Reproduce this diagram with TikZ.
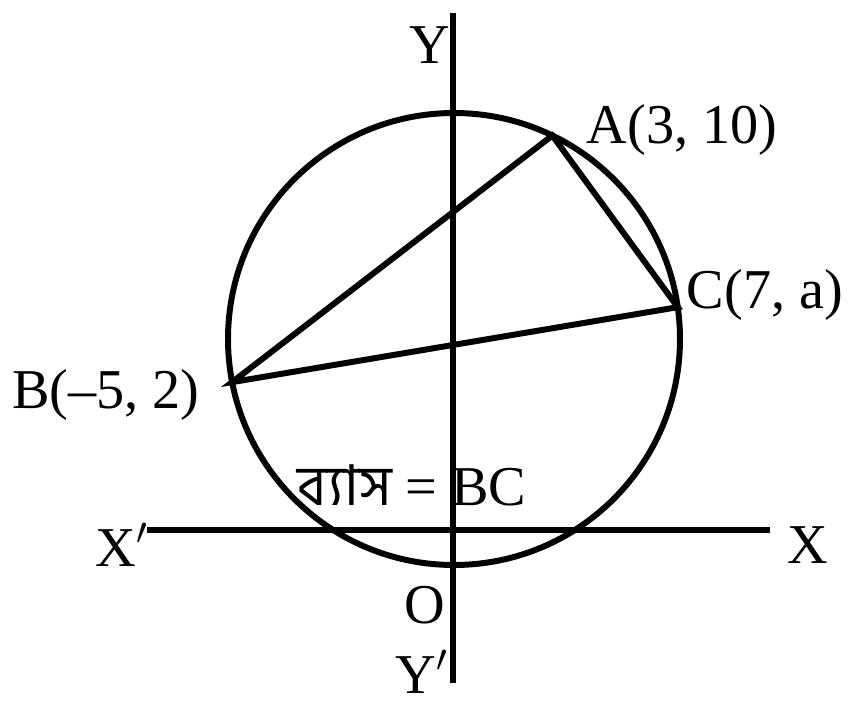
\documentclass[tikz,border=0pt]{standalone}
\usepackage{fontspec}
\usetikzlibrary{calc}
\setmainfont{Liberation Serif}
\newfontfamily\bnfont[Script=Bengali]{Hind Siliguri}
\tikzset{
  geo/.style={line width=1.7pt},
  lbl/.style={font=\fontsize{16}{18}\selectfont, inner sep=0pt}
}
\begin{document}
\begin{tikzpicture}
  \useasboundingbox (0,0) rectangle (8.59,-7.01);

  % Axes
  \draw[geo] (1.47,-5.30) coordinate (xl) -- (7.70,-5.30) coordinate (xr);
  \draw[geo] (4.53,-0.13) coordinate (yt) -- (4.53,-6.83) coordinate (yb);

  % Circle and the three points on it
  \coordinate (ctr) at (4.54,-3.39);
  \draw[geo] (ctr) circle (2.26);
  \coordinate (A) at ($(ctr)+(64.2:2.26)$);
  \coordinate (B) at ($(ctr)+(191:2.26)$);
  \coordinate (C) at ($(ctr)+(8.1:2.26)$);

  % Triangle ABC
  \draw[geo, line join=miter] (B) -- (A) -- (C) -- cycle;

  % Labels
  \node (lY)  at (4.30,-0.45) [lbl] {Y};
  \node (lY2) at (4.22,-6.72) [lbl] {Y$'$};
  \node (lO)  at (4.25,-6.05) [lbl] {O};
  \node (lX2) at (1.22,-5.45) [lbl] {X$'$};
  \node (lX)  at (8.08,-5.45) [lbl] {X};
  \node (lA)  at (6.82,-1.30) [lbl] {A(3, 10)};
  \node (lC)  at (7.65,-2.95) [lbl] {C(7, a)};
  \node (lB)  at (1.06,-3.95) [lbl] {B(--5, 2)};
  \node (dia) at (4.12,-4.85) [lbl] {{\bnfont ব্যাস} = BC};
\end{tikzpicture}
\end{document}
